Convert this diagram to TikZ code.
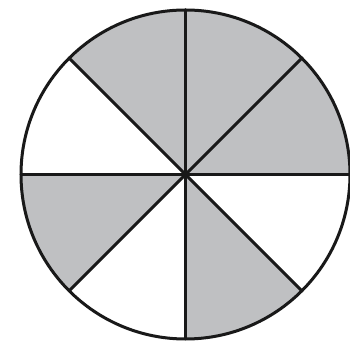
\documentclass[tikz,border=0pt]{standalone}
\definecolor{sectorgray}{HTML}{BFC0C2}
\begin{document}
\begin{tikzpicture}[x=1pt,y=1pt,line width=3pt,
  spoke/.style={draw=black!90,line cap=round}]
\useasboundingbox (0,0) rectangle (350,350);
\coordinate (c) at (185.5,175.5);
\def\R{164.5}
\foreach \a in {0,45,90,180,270}{
  \fill[sectorgray] (c) -- ++({\a}:{\R}) arc[start angle=\a,end angle=\a+45,radius=\R] -- cycle;
}
\foreach \a in {0,45,...,315}{
  \draw[spoke] (c) -- ++({\a}:{\R});
}
\draw[black!90] (c) circle[radius=\R];
\end{tikzpicture}
\end{document}
